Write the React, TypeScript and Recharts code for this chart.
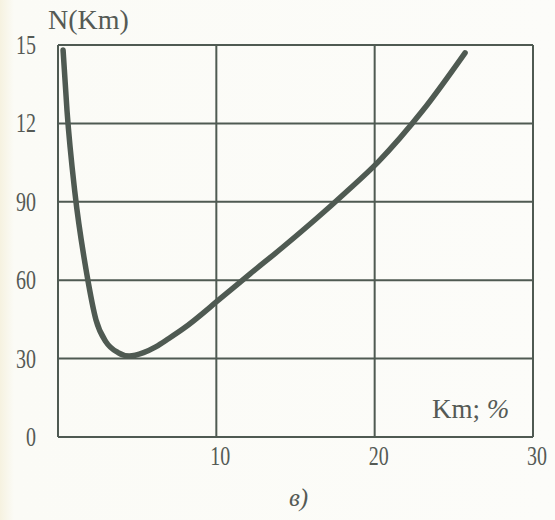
import React from "react"
import { LineChart, Line, XAxis, YAxis, CartesianGrid } from "recharts"

// N as a function of Km (%)
const km = [0.32, 0.57, 1.07, 1.83, 2.4, 3.03, 3.79, 4.5, 5.4, 6.2, 7.0, 7.9, 10.3, 12.13, 14.21, 16.36, 18.13, 20.21, 23.06, 25.71]
const nValues = [148.1, 124.8, 93.4, 62, 44.8, 36.4, 32.3, 31, 32.3, 34.6, 37.7, 41.4, 53.2, 62.4, 72.7, 83.8, 93.4, 105.2, 125.1, 147]

const xTicks = [0, 10, 20, 30]
const yTicks = [0, 30, 60, 90, 120, 150]
const yTickText = ["0", "30", "60", "90", "12", "15"]

const data = km.map((k, i) => ({ km: k, n: nValues[i] }))

const ink = "#4f5a52"
const textInk = "#555a55"
const serif = "'Liberation Serif', 'Times New Roman', serif"

const YTick = ({ x, y, payload }: any) => {
    const idx = yTicks.indexOf(payload.value)
    return (
        <text
            transform={`translate(${x},${y}) scale(0.74,1)`}
            textAnchor="end"
            dy={9}
            fill={textInk}
            fontFamily={serif}
            fontSize={27}
        >
            {yTickText[idx]}
        </text>
    )
}

const XTick = ({ x, y, payload }: any) => {
    if (payload.value === 0) return <g />
    return (
        <text
            transform={`translate(${x + 4},${y}) scale(0.74,1)`}
            textAnchor="middle"
            dy={18}
            fill={textInk}
            fontFamily={serif}
            fontSize={27}
        >
            {payload.value}
        </text>
    )
}

export default function App() {
    return (
        <div
            style={{
                position: "absolute",
                left: 0,
                top: 0,
                width: 555,
                height: 520,
                background: "linear-gradient(to right, #f6f2e0 0px, #fbfbf6 14px, #fcfcf9 100%)",
                fontFamily: serif,
                color: textInk,
            }}
        >
            <LineChart
                width={555}
                height={520}
                data={data}
                margin={{ top: 45, right: 22, left: 8, bottom: 43 }}
            >
                <CartesianGrid stroke={ink} strokeWidth={2} />
                <XAxis
                    dataKey="km"
                    type="number"
                    domain={[0, 30]}
                    ticks={xTicks}
                    axisLine={false}
                    tickLine={false}
                    tickSize={0}
                    tickMargin={10}
                    height={40}
                    tick={<XTick />}
                    interval={0}
                />
                <YAxis
                    type="number"
                    domain={[0, 150]}
                    ticks={yTicks}
                    axisLine={false}
                    tickLine={false}
                    tickSize={0}
                    tickMargin={22}
                    width={50}
                    tick={<YTick />}
                    interval={0}
                />
                <Line
                    dataKey="n"
                    type="monotone"
                    stroke={ink}
                    strokeWidth={5.5}
                    strokeLinecap="round"
                    dot={false}
                    isAnimationActive={false}
                />
            </LineChart>
            <span style={{ position: "absolute", left: 48, top: 4, fontSize: 28 }}>N(Km)</span>
            <span style={{ position: "absolute", left: 432, top: 394, fontSize: 27 }}>
                Km; <i>%</i>
            </span>
            <span style={{ position: "absolute", left: 289, top: 484, fontSize: 25, fontStyle: "italic" }}>в)</span>
        </div>
    )
}
